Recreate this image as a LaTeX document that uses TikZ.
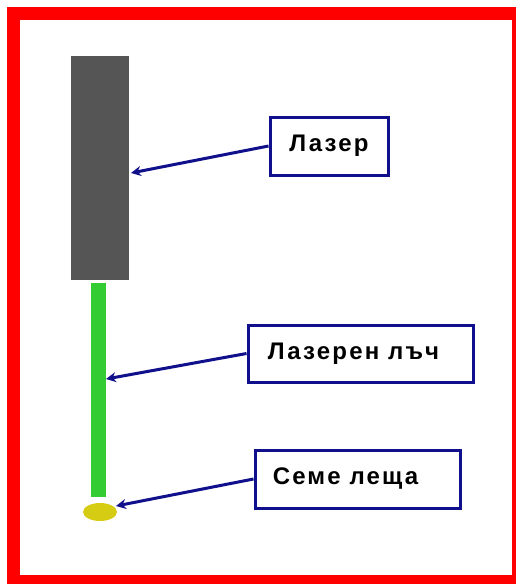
\documentclass[tikz,border=0pt]{standalone}
\usepackage{fontspec}
\setmainfont{Liberation Sans}
\newfontfamily\labelfont[LetterSpace=9]{Liberation Sans Bold}
\usetikzlibrary{arrows.meta}
\definecolor{frame}{RGB}{255,0,0}
\definecolor{navy}{RGB}{16,16,140}
\definecolor{body}{RGB}{85,85,85}
\definecolor{beam}{RGB}{51,204,51}
\definecolor{seed}{RGB}{214,204,20}
\tikzset{
  label box/.style={draw=navy, line width=3pt, fill=white, inner sep=0pt,
    font=\labelfont\fontsize{24}{28}\selectfont, text=black},
  pointer/.style={draw=navy, line width=3pt, -{Stealth[length=10pt,width=10pt]}}
}
\begin{document}
\begin{tikzpicture}[x=1pt,y=-1pt]
  \useasboundingbox (0,0) rectangle (516,584);
  % red frame
  \fill[frame] (7,7) rectangle (516,584);
  \fill[white] (20,20) rectangle (512,575);
  % laser body, beam and lentil seed
  \fill[body] (71,56) rectangle (129,280);
  \fill[beam] (91,283) rectangle (106,497);
  \fill[seed] (100,512) ellipse [x radius=17, y radius=9];
  \coordinate (laser) at (131,173);
  \coordinate (ray) at (106,379);
  \coordinate (lentil) at (116,506);
  % labels
  \node[label box, minimum width=118, minimum height=58] (t1) at (329,146) {Лазер};
  \node[label box, minimum width=225, minimum height=57] (t2) at (360.5,353.5) {\hspace*{-14pt}Лазерен лъч};
  \node[label box, minimum width=205, minimum height=58] (t3) at (357.5,479) {\hspace*{-24pt}Семе леща};
  % pointers
  \draw[pointer] (t1.west) -- (laser);
  \draw[pointer] (t2.west) -- (ray);
  \draw[pointer] (t3.west) -- (lentil);
\end{tikzpicture}
\end{document}
